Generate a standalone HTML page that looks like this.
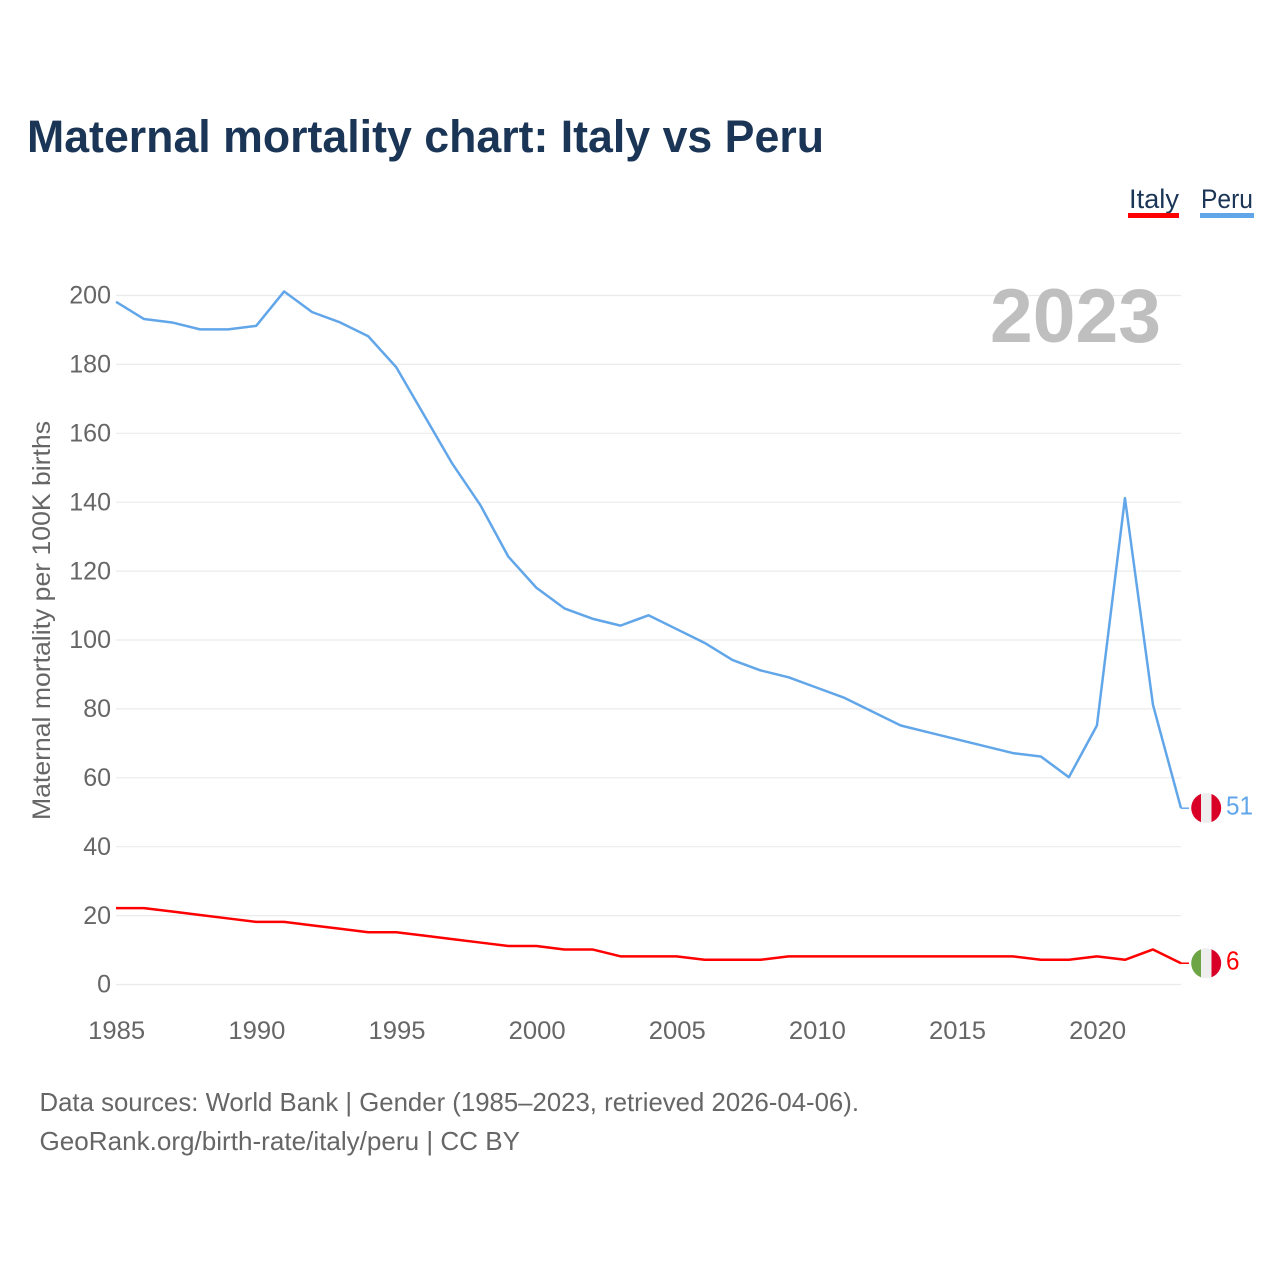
<!DOCTYPE html>
<html lang="en">
<head>
<meta charset="utf-8">
<title>Maternal mortality chart: Italy vs Peru</title>
<style>
html,body{margin:0;padding:0;background:#fff;}
svg{display:block;font-family:"Liberation Sans",sans-serif;}
</style>
</head>
<body>
<svg id="chart" xmlns="http://www.w3.org/2000/svg" width="1280" height="1280" viewBox="0 0 1280 1280">
  <rect x="0" y="0" width="1280" height="1280" fill="#ffffff"/>
  <text x="27" y="152" font-size="45" font-weight="700" fill="#1b3556" textLength="797" lengthAdjust="spacingAndGlyphs">Maternal mortality chart: Italy vs Peru</text>

  <g>
    <g>
      <text x="1129" y="208" font-size="27" fill="#1b3556" textLength="50" lengthAdjust="spacingAndGlyphs">Italy</text>
      <rect x="1128" y="213" width="51" height="5" fill="#ff0000"/>
    </g>
    <g>
      <text x="1201" y="208" font-size="27" fill="#1b3556" textLength="52" lengthAdjust="spacingAndGlyphs">Peru</text>
      <rect x="1200" y="213" width="54" height="5" fill="#62a6ea"/>
    </g>
  </g>

  <g id="grid"></g>
  <g id="y-ticks"></g>
  <g id="x-ticks"></g>

  <text transform="translate(50,620.5) rotate(-90)" text-anchor="middle" font-size="25" fill="#666666" textLength="399" lengthAdjust="spacingAndGlyphs">Maternal mortality per 100K births</text>

  <text x="990" y="342" font-size="76" font-weight="700" fill="#bfbfbf" textLength="171" lengthAdjust="spacingAndGlyphs">2023</text>

  <g id="series"></g>

  <defs>
    <clipPath id="flag-clip-peru"><circle cx="1206.2" cy="808" r="15"/></clipPath>
    <clipPath id="flag-clip-italy"><circle cx="1206.2" cy="963.3" r="15"/></clipPath>
  </defs>
  <g clip-path="url(#flag-clip-peru)">
    <rect x="1191" y="793" width="10" height="30" fill="#d80027"/>
    <rect x="1201" y="793" width="10.5" height="30" fill="#eeeeee"/>
    <rect x="1211.5" y="793" width="10" height="30" fill="#d80027"/>
  </g>
  <g clip-path="url(#flag-clip-italy)">
    <rect x="1191" y="948" width="10" height="31" fill="#6da544"/>
    <rect x="1201" y="948" width="10.5" height="31" fill="#eeeeee"/>
    <rect x="1211.5" y="948" width="10" height="31" fill="#d80027"/>
  </g>

  <g>
    <text x="39.5" y="1111" font-size="26" fill="#666666" textLength="819.5" lengthAdjust="spacingAndGlyphs">Data sources: World Bank | Gender (1985–2023, retrieved 2026-04-06).</text>
    <text x="39.5" y="1150" font-size="26" fill="#666666" textLength="480.5" lengthAdjust="spacingAndGlyphs">GeoRank.org/birth-rate/italy/peru | CC BY</text>
  </g>
</svg>
<script>
const years = [1985,1986,1987,1988,1989,1990,1991,1992,1993,1994,1995,1996,1997,1998,1999,2000,2001,2002,2003,2004,2005,2006,2007,2008,2009,2010,2011,2012,2013,2014,2015,2016,2017,2018,2019,2020,2021,2022,2023];
const peruValues = [198,193,192,190,190,191,201,195,192,188,179,165,151,139,124,115,109,106,104,107,103,99,94,91,89,86,83,79,75,73,71,69,67,66,60,75,141,81,51];
const italyValues = [22,22,21,20,19,18,18,17,16,15,15,14,13,12,11,11,10,10,8,8,8,7,7,7,8,8,8,8,8,8,8,8,8,7,7,8,7,10,6];
const yTickValues = [0,20,40,60,80,100,120,140,160,180,200];
const xTickValues = [1985,1990,1995,2000,2005,2010,2015,2020];

const NS = 'http://www.w3.org/2000/svg';
const PLOT_LEFT = 116, PLOT_RIGHT = 1181, Y_ZERO = 984.5, Y_TOP = 295.5;
const LINE_SHIFT = -0.6;
const xMin = years[0], xMax = 2023, yMax = 200;
function xScale(v){ return PLOT_LEFT + (v - xMin) * (PLOT_RIGHT - PLOT_LEFT) / (xMax - xMin); }
function yScale(v){ return Y_ZERO - v * (Y_ZERO - Y_TOP) / yMax; }
function make(tag, attrs, parent, text){
  const el = document.createElementNS(NS, tag);
  for (const k in attrs) el.setAttribute(k, attrs[k]);
  if (text !== undefined) el.textContent = text;
  parent.appendChild(el);
  return el;
}
const grid = document.getElementById('grid');
const yTicks = document.getElementById('y-ticks');
const xTicks = document.getElementById('x-ticks');
const series = document.getElementById('series');

yTickValues.forEach(function(v){
  const y = yScale(v);
  const line = make('line', {x1:PLOT_LEFT, x2:PLOT_RIGHT, y1:y, y2:y, stroke:'#ebebeb', 'stroke-width':1.2}, grid);
  
  
  const label = make('text', {x:111, y:y + 8.2, 'text-anchor':'end', 'font-size':25, fill:'#666666'}, yTicks, String(v));
  
  
});

xTickValues.forEach(function(v){
  const label = make('text', {x:xScale(v) + 0.7, y:1039, 'text-anchor':'middle', 'font-size':25, fill:'#666666', textLength:57, lengthAdjust:'spacingAndGlyphs'}, xTicks, String(v));
  
  
});

function drawSeries(values, color, key){
  const pts = values.map(function(v, i){ return xScale(years[i]).toFixed(2) + ',' + (yScale(v) + LINE_SHIFT).toFixed(2); }).join(' ');
  const line = make('polyline', {points:pts, fill:'none', stroke:color, 'stroke-width':2.5, 'stroke-linejoin':'round'}, series);
  
  
  const last = values[values.length - 1];
  const lastY = yScale(last) + LINE_SHIFT;
  const connector = make('line', {x1:PLOT_RIGHT, x2:1189, y1:lastY, y2:lastY, stroke:color, 'stroke-width':1.5}, series);
  
  
  const label = make('text', {x:1226, y:lastY + 6.5, 'font-size':26, fill:color, textLength:13.5 * String(last).length, lengthAdjust:'spacingAndGlyphs'}, series, String(last));
  
  
}
drawSeries(peruValues, '#62a6ea', 'peru');
drawSeries(italyValues, '#ff0000', 'italy');
</script>
</body>
</html>
